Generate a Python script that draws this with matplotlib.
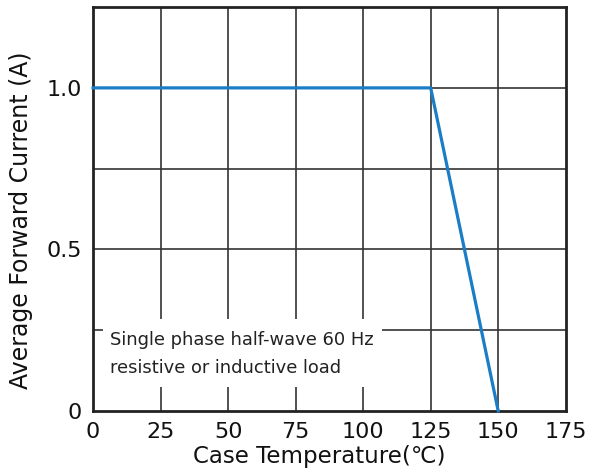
import matplotlib.pyplot as plt
from matplotlib.patches import Rectangle

# Derating curve data
temps = [0, 125, 150]
current = [1.0, 1.0, 0.0]

x_ticks = [0, 25, 50, 75, 100, 125, 150, 175]
y_ticks = [0, 0.5, 1.0]
y_tick_labels = ['0', '0.5', '1.0']
y_grid = [0.25, 0.5, 0.75, 1.0]
note_lines = ['Single phase half-wave 60 Hz', 'resistive or inductive load']

plt.rcParams['font.family'] = ['DejaVu Sans']

fig = plt.figure(figsize=(5.93, 4.75), dpi=100)
ax = fig.add_axes([0.157, 0.135, 0.797, 0.85])

# Grid lines
for x in x_ticks[1:-1]:
    ax.axvline(x, color='#333333', lw=1.2, zorder=1)
for y in y_grid:
    ax.axhline(y, color='#333333', lw=1.2, zorder=1)

ax.plot(temps, current, color='#1a7dc6', lw=2.3, zorder=3, clip_on=False)

# white note box that interrupts the grid
ax.add_patch(Rectangle((3.7, 0.075), 103.2, 0.208, facecolor='white',
                       edgecolor='none', zorder=2))
ax.text(6.3, 0.205, note_lines[0], fontsize=12.9, color='#222222',
        va='baseline', ha='left', zorder=4)
ax.text(6.3, 0.118, note_lines[1], fontsize=12.9, color='#222222',
        va='baseline', ha='left', zorder=4)

ax.set_xlim(0, 175)
ax.set_ylim(0, 1.25)
ax.set_xticks(x_ticks)
ax.set_yticks(y_ticks)
ax.set_yticklabels(y_tick_labels)
ax.tick_params(length=0, labelsize=16, pad=8, colors='#111111')
for s in ax.spines.values():
    s.set_linewidth(2)
    s.set_color('#222222')

ax.set_xlabel('Case Temperature(℃)', fontsize=16.5, color='#111111')
ax.set_ylabel('Average Forward Current (A)', fontsize=17, color='#111111')
ax.xaxis.set_label_coords(0.479, -0.085)
ax.yaxis.set_label_coords(-0.128, 0.473)

fig.savefig('out.png', dpi=100)
